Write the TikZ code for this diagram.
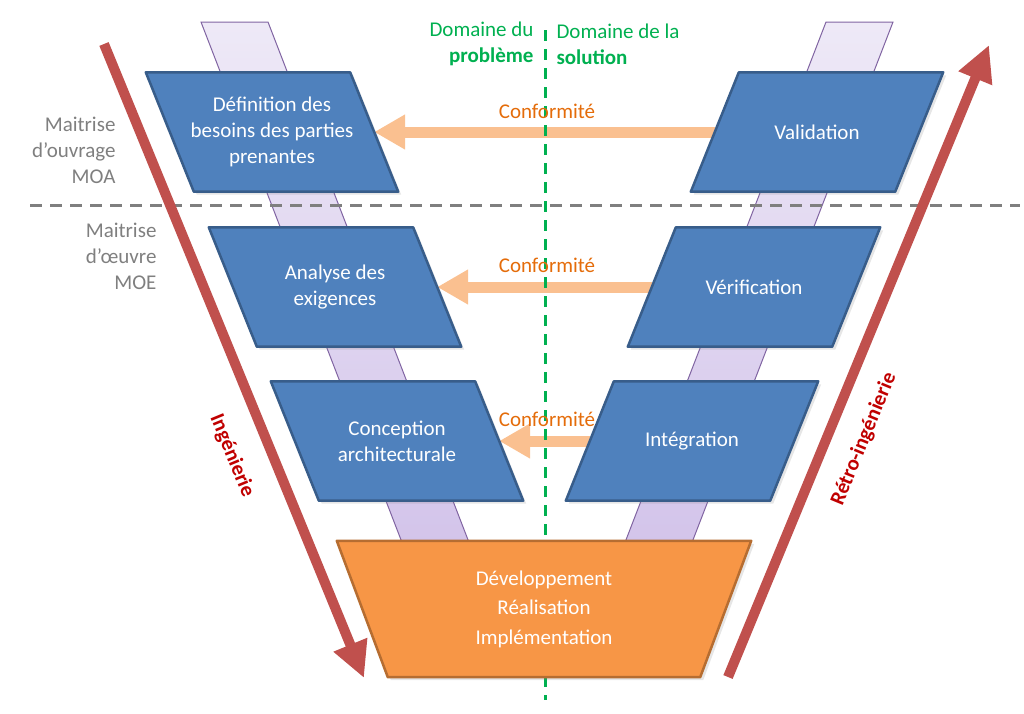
\documentclass[tikz,border=0pt]{standalone}
\usepackage{fontspec}
\setmainfont{Carlito}
\usetikzlibrary{arrows.meta,shadows}

\definecolor{bleu}{RGB}{79,129,189}
\definecolor{bleufonce}{RGB}{56,93,138}
\definecolor{dev}{RGB}{247,150,70}
\definecolor{devbord}{RGB}{182,109,49}
\definecolor{mauve}{RGB}{128,100,162}
\definecolor{lavclair}{RGB}{238,233,247}
\definecolor{lavfonce}{RGB}{211,196,234}
\definecolor{rouge}{RGB}{192,80,77}
\definecolor{rougetexte}{RGB}{192,0,0}
\definecolor{vert}{RGB}{0,176,80}
\definecolor{gris}{RGB}{127,127,127}
\definecolor{confclair}{RGB}{250,192,144}
\definecolor{conftexte}{RGB}{228,108,10}

\pgfdeclarelayer{fond}
\pgfdeclarelayer{arriere}
\pgfdeclarelayer{boites}
\pgfsetlayers{fond,arriere,boites,main}

\tikzset{
    etape/.style={minimum width=204pt, minimum height=119pt, inner sep=0pt, text=white, align=center},
    realisation/.style={minimum width=363pt, minimum height=136pt, inner sep=0pt, text=white, align=center,
        font=\fontsize{21}{29.5}\selectfont},
    boite/.style={draw=bleufonce, fill=bleu, line width=2.5pt, line join=round,
        drop shadow={opacity=.2, shadow xshift=3pt, shadow yshift=-3pt}},
    boitedev/.style={draw=devbord, fill=dev, line width=2.5pt, line join=round,
        drop shadow={opacity=.2, shadow xshift=3pt, shadow yshift=-3pt}},
    bande/.style={top color=lavclair, bottom color=lavfonce, draw=mauve, line width=1pt},
    conformite/.style={draw=confclair, line width=11pt, -{Triangle[width=33pt,length=31pt]}},
    fleche/.style={draw=rouge, line width=10pt, -{Triangle[width=34pt,length=36pt]}},
    libelle/.style={text=conftexte},
}

\begin{document}
\begin{tikzpicture}[x=1pt,y=-1pt, every node/.style={font=\fontsize{21}{26}\selectfont}]
    \useasboundingbox (0,0) rectangle (1024,713);

    \node[etape] (besoins) at (272,132) {Définition des\\besoins des parties\\prenantes};
    \node[etape] (exigences) at (335,287) {Analyse des\\exigences};
    \node[etape] (conception) at (397,441) {Conception\\architecturale};
    \node[etape] (validation) at (817,132) {Validation};
    \node[etape] (verification) at (754,287) {Vérification};
    \node[etape] (integration) at (692,441) {Intégration};
    \node[realisation] (developpement) at (544,609) {Développement\\Réalisation\\Implémentation};

    \node[libelle] (conf1) at (547,111) {Conformité};
    \node[libelle] (conf2) at (547,265) {Conformité};
    \node[libelle] (conf3) at (547,419) {Conformité};

    \node[text=gris, align=right, anchor=east] (moa) at (119,150) {Maitrise\\d’ouvrage\\MOA};
    \node[text=gris, align=right, anchor=east] (moe) at (160,256) {Maitrise\\d’œuvre\\MOE};
    \node[text=vert, align=right, anchor=east] (probleme) at (537,44) {Domaine du\\\textbf{problème}};
    \node[text=vert, align=left, anchor=west] (solution) at (553,44) {Domaine de la\\\textbf{solution}};

    \node[text=rougetexte, font=\fontsize{21}{26}\selectfont\bfseries, rotate=-67.6] (inge) at (232,456) {Ingénierie};
    \node[text=rougetexte, font=\fontsize{21}{26}\selectfont\bfseries, rotate=67.6] (retro) at (864,439) {Rétro-ingénierie};

    \coordinate (descente) at (104,44);
    \coordinate (bas) at (364,678);
    \coordinate (retour) at (728,677);
    \coordinate (haut) at (989,45);

    \begin{pgfonlayer}{fond}
        \shadedraw[bande] (201,22) -- (268,22) -- (470,545) -- (403,545) -- cycle;
        \shadedraw[bande] (826,22) -- (893,22) -- (691,545) -- (624,545) -- cycle;
        \draw[gris, line width=3pt, dash pattern=on 12pt off 8pt] (30,205) -- (1020,205);
    \end{pgfonlayer}

    \begin{pgfonlayer}{boites}
        \foreach \n in {besoins,exigences,conception}
            \draw[boite] ([xshift=-24pt]\n.north west) -- ([xshift=-24pt]\n.north east)
                -- ([xshift=24pt]\n.south east) -- ([xshift=24pt]\n.south west) -- cycle;
        \foreach \n in {validation,verification,integration}
            \draw[boite] ([xshift=24pt]\n.north west) -- ([xshift=24pt]\n.north east)
                -- ([xshift=-24pt]\n.south east) -- ([xshift=-24pt]\n.south west) -- cycle;
        \draw[boitedev] ([xshift=-25.5pt]developpement.north west) -- ([xshift=25.5pt]developpement.north east)
            -- ([xshift=-25.5pt]developpement.south east) -- ([xshift=25.5pt]developpement.south west) -- cycle;
    \end{pgfonlayer}

    \begin{pgfonlayer}{arriere}
        \draw[conformite] (validation) -- (besoins);
        \draw[conformite] (verification) -- (exigences);
        \draw[conformite] (integration) -- (conception);
        \draw[vert, line width=3pt, dash pattern=on 11pt off 8pt] (545,30) -- (545,700);
        \draw[fleche] (descente) -- (bas);
        \draw[fleche] (retour) -- (haut);
    \end{pgfonlayer}
\end{tikzpicture}
\end{document}
